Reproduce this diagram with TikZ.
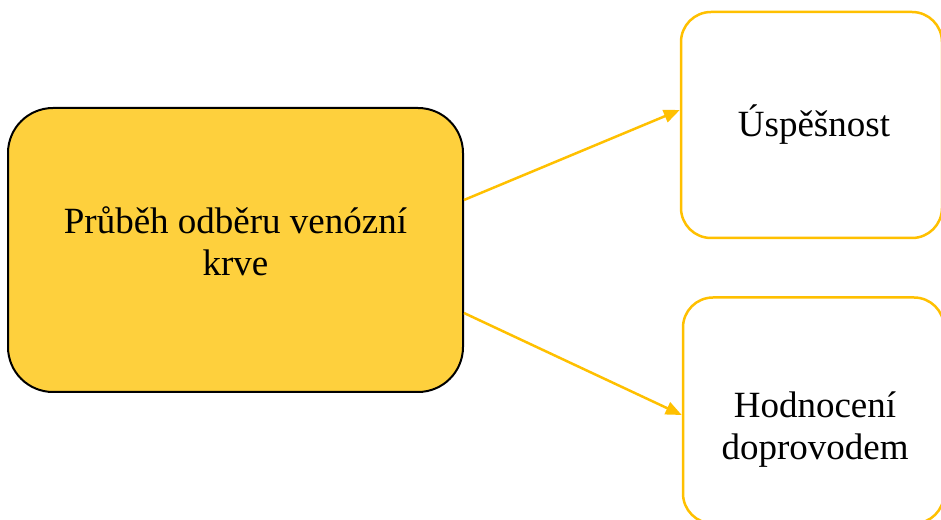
\documentclass[tikz,border=0pt]{standalone}
\usepackage{fontspec}
\setmainfont{Liberation Serif}
\usetikzlibrary{arrows.meta}
\definecolor{boxfill}{HTML}{FED03D}
\definecolor{gold}{HTML}{FFC000}
\begin{document}
\begin{tikzpicture}[x=1pt,y=1pt,
  txt/.style={font=\fontsize{37}{42}\selectfont, align=center, text=black},
  mainbox/.style={draw=black, line width=2pt, fill=boxfill, rounded corners=45pt, minimum width=455pt, minimum height=284pt, inner sep=0pt},
  sidebox/.style={draw=gold, line width=2.5pt, fill=white, rounded corners=30pt, minimum width=261pt, minimum height=226pt, inner sep=0pt},
  conn/.style={draw=gold, line width=2.5pt, -{Triangle[length=16pt,width=13pt]}}]
\useasboundingbox (0,0) rectangle (941,519);
\node[mainbox] (m) at (235.5,269) {};
\node[sidebox] (a) at (811.5,394) {};
\node[sidebox] (b) at (813.5,108.5) {};
\node[txt] (mt) at (235.5,278) {Průběh odběru venózní\\krve};
\node[txt] (at) at (814,394) {Úspěšnost};
\node[txt] (bt) at (815,89) {Hodnocení\\doprovodem};
\coordinate (s1) at ([yshift=50pt]m.east);
\coordinate (e1) at ([yshift=15pt]a.west);
\coordinate (s2) at ([yshift=-63pt]m.east);
\coordinate (e2) at ([yshift=-4.5pt]b.west);
\draw[conn] (s1) -- (e1);
\draw[conn] (s2) -- (e2);
\end{tikzpicture}
\end{document}
